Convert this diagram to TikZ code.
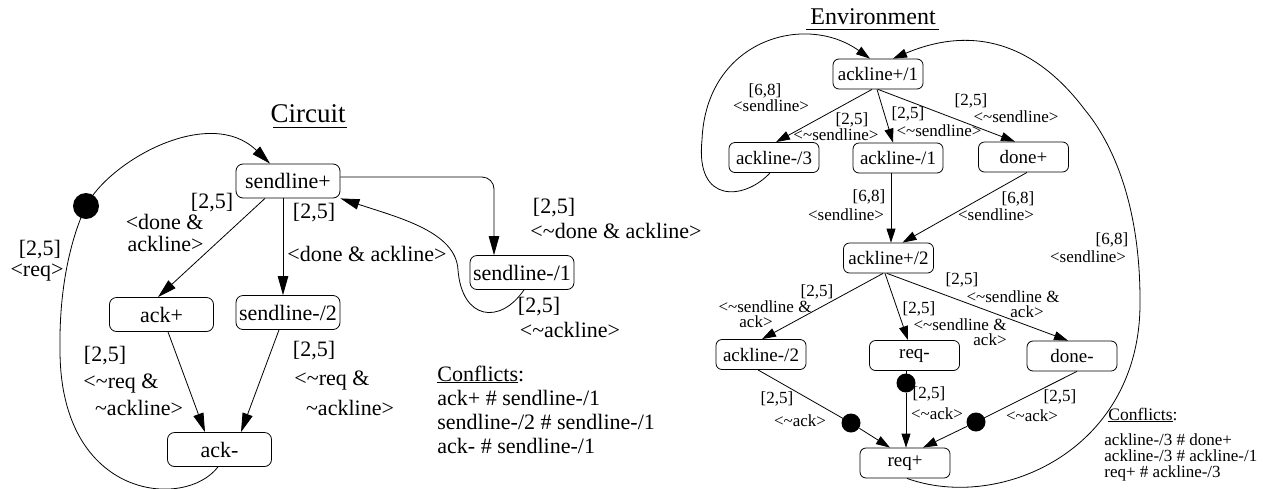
\documentclass[tikz,border=0pt]{standalone}
\usepackage{fontspec}
\setmainfont{Liberation Serif}
\usetikzlibrary{arrows.meta,calc}
\begin{document}
\begin{tikzpicture}[x=1pt,y=-1pt,line width=0.8pt,
  cst/.style={draw,rounded corners=7pt,minimum width=104pt,minimum height=34pt,inner sep=0pt,font=\fontsize{22}{22}\selectfont},
  est/.style={draw,rounded corners=6pt,minimum width=90pt,minimum height=30pt,inner sep=0pt,font=\fontsize{19}{19}\selectfont},
  clab/.style={inner sep=0pt,font=\fontsize{22}{22}\selectfont},
  elab/.style={inner sep=0pt,font=\fontsize{17}{17}\selectfont},
  conf/.style={inner sep=0pt,anchor=base west},
  carr/.style={-{Triangle[length=19pt,width=10.5pt]}},
  earr/.style={-{Triangle[length=14pt,width=9pt]}},
  bigdot/.style={circle,fill,inner sep=0pt,minimum size=26pt},
  sdot/.style={circle,fill,inner sep=0pt,minimum size=19pt}]
\useasboundingbox (0,0) rectangle (1271,488);

% ---------------- Circuit ----------------
\node[inner sep=0pt,font=\fontsize{27}{27}\selectfont,anchor=base] (ct) at (308,122) {Circuit};
\draw[line width=0.9pt] (273,127) -- (347,127);

\node[cst] (sp) at (288,181) {sendline+};
\node[cst] (ap) at (161.5,314.5) {ack+};
\node[cst] (s2) at (288,312.5) {sendline-/2};
\node[cst] (am) at (219.5,449.5) {ack-};
\node[cst] (s1) at (522,272.5) {sendline-/1};
\node[bigdot] (d0) at (86,206) {};

\draw[carr] ([xshift=-23pt]sp.south) -- ([xshift=-3.5pt]ap.north);
\draw[carr] ([xshift=-5pt]sp.south) -- ([xshift=-5pt]s2.north);
\draw[carr] ([xshift=6.5pt]ap.south) -- ([xshift=-14.5pt]am.north);
\draw[carr] ([xshift=-9pt]s2.south) -- ([xshift=21.5pt]am.north);
\draw[carr,rounded corners=12pt] ([yshift=4pt]sp.east) -| ([xshift=-28pt]s1.north);
\draw[carr] ([xshift=2pt]s1.south) .. controls (500,325) and (462,320) .. (458,270)
  .. controls (456,232) and (400,218) .. (sp.south east);
\draw[carr] ([xshift=-1.5pt]am.south) .. controls (185,510) and (60,500) .. (60,350)
  .. controls (59,290) and (70,240) .. (d0.center)
  .. controls (110,160) and (210,105) .. ([xshift=-18pt]sp.north);

\node[clab] at (212,203) {[2,5]};
\node[clab,anchor=east,align=right] at (204,233) {<done \&\\ackline>};
\node[clab] at (314,213) {[2,5]};
\node[clab,anchor=west] at (287,254) {<done \& ackline>};
\node[clab] at (105,356) {[2,5]};
\node[clab] at (121,384) {<\textasciitilde req \&};
\node[clab] at (139,408) {\textasciitilde ackline>};
\node[clab] at (314,351) {[2,5]};
\node[clab] at (332,381) {<\textasciitilde req \&};
\node[clab] at (350,408) {\textasciitilde ackline>};
\node[clab] at (40,250) {[2,5]};
\node[clab] at (37,273) {<req>};
\node[clab] at (554,208) {[2,5]};
\node[clab] at (616,231) {<\textasciitilde done \& ackline>};
\node[clab] at (539,307) {[2,5]};
\node[clab] at (570,330) {<\textasciitilde ackline>};

\node[conf,font=\fontsize{22}{22}\selectfont] (c0) at (437,381) {\underline{Conflicts}:};
\node[conf,font=\fontsize{22}{22}\selectfont] (c1) at (437,405) {ack+ \# sendline-/1};
\node[conf,font=\fontsize{22}{22}\selectfont] (c2) at (437,429) {sendline-/2 \# sendline-/1};
\node[conf,font=\fontsize{22}{22}\selectfont] (c3) at (437,453) {ack- \# sendline-/1};

% ---------------- Environment ----------------
\node[inner sep=0pt,font=\fontsize{24}{24}\selectfont,anchor=base] (et) at (873,24) {Environment};
\draw[line width=0.9pt] (806,29) -- (939,29);

\node[est] (e1) at (878,74) {ackline+/1};
\node[est] (e3) at (774,157.5) {ackline-/3};
\node[est] (em1) at (898,158) {ackline-/1};
\node[est] (dp) at (1023.5,157) {done+};
\node[est] (e2) at (888.5,258) {ackline+/2};
\node[est] (em2) at (761,354.5) {ackline-/2};
\node[est] (rm) at (914.5,355.5) {req-};
\node[est] (dm) at (1072,356) {done-};
\node[est] (rp) at (905,463) {req+};
\node[sdot] (f1) at (851,423) {};
\node[sdot] (f2) at (906,383) {};
\node[sdot] (f3) at (976,422) {};

\draw[earr] ([xshift=-6pt]e1.south) -- ([xshift=2pt]e3.north);
\draw[earr] ([xshift=-1pt]e1.south) -- ([xshift=-5pt]em1.north);
\draw[earr] (e1.south) -- ([xshift=-8.5pt]dp.north);
\draw[earr] ([xshift=-4pt]e3.south) .. controls (745,200) and (695,205) .. (702,140)
  .. controls (706,40) and (805,12) .. ([xshift=-8pt]e1.north);
\draw[earr] ([xshift=-7pt]em1.south) -- ([xshift=2.5pt]e2.north);
\draw[earr] ([xshift=3.5pt]dp.south) -- ([xshift=14pt]e2.north);
\draw[earr] ([xshift=-5.5pt]e2.south) -- ([xshift=1pt]em2.north);
\draw[earr] ([xshift=-3.5pt]e2.south) -- ([xshift=-6.5pt]rm.north);
\draw[earr] ([xshift=-1.5pt]e2.south) -- ([xshift=-4pt]dm.north);
\draw ([xshift=-3pt]em2.south) -- (f1.center);
\draw[earr] (f1) -- ([xshift=-15pt]rp.north);
\draw ([xshift=-8.5pt]rm.south) -- (f2.center);
\draw[earr] (f2) -- ([xshift=1pt]rp.north);
\draw ([xshift=5pt]dm.south) -- (f3.center);
\draw[earr] (f3) -- ([xshift=18pt]rp.north);
\draw[earr] ([xshift=2pt]rp.south) .. controls (1000,512) and (1142,450) .. (1140,300)
  .. controls (1140,200) and (1110,140) .. (1085,110)
  .. controls (1040,50) and (980,22) .. ([xshift=15pt]e1.north);

\node[elab] at (765,91) {[6,8]};
\node[elab] at (771,106) {<sendline>};
\node[elab] at (852,120) {[2,5]};
\node[elab] at (836,135) {<\textasciitilde sendline>};
\node[elab] at (908,114) {[2,5]};
\node[elab] at (939,131) {<\textasciitilde sendline>};
\node[elab] at (971,101) {[2,5]};
\node[elab] at (1016,117) {<\textasciitilde sendline>};
\node[elab] at (869,197) {[6,8]};
\node[elab] at (846,215) {<sendline>};
\node[elab] at (1018,199) {[6,8]};
\node[elab] at (996,215) {<sendline>};
\node[elab] at (817,292) {[2,5]};
\node[elab] at (765,307) {<\textasciitilde sendline \&};
\node[elab] at (756,322) {ack>};
\node[elab] at (919,309) {[2,5]};
\node[elab] at (960,325) {<\textasciitilde sendline \&};
\node[elab] at (990,340) {ack>};
\node[elab] at (962,280) {[2,5]};
\node[elab] at (1013,297) {<\textasciitilde sendline \&};
\node[elab] at (1027,312) {ack>};
\node[elab] at (777,399) {[2,5]};
\node[elab] at (800,421) {<\textasciitilde ack>};
\node[elab] at (929,394) {[2,5]};
\node[elab] at (937,414) {<\textasciitilde ack>};
\node[elab] at (1060,397) {[2,5]};
\node[elab] at (1032,416) {<\textasciitilde ack>};
\node[elab] at (1112,240) {[6,8]};
\node[elab] at (1088,257) {<sendline>};

\node[conf,font=\fontsize{17.5}{17.5}\selectfont] (g0) at (1108,420) {\underline{Conflicts}:};
\node[conf,font=\fontsize{17}{17}\selectfont] (g1) at (1104,445) {ackline-/3 \# done+};
\node[conf,font=\fontsize{17}{17}\selectfont] (g2) at (1104,461) {ackline-/3 \# ackline-/1};
\node[conf,font=\fontsize{17}{17}\selectfont] (g3) at (1104,477) {req+ \# ackline-/3};
\end{tikzpicture}
\end{document}
